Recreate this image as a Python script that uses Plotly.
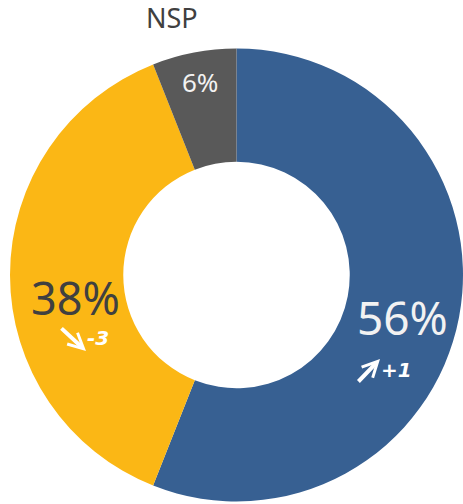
import plotly.graph_objects as go

# Donut data: share of answers, clockwise from 12 o'clock
labels = ["Oui", "Non", "NSP"]
values = [56, 38, 6]
colors = ["#376092", "#FBB715", "#595959"]
changes = ["+1", "-3", None]

W, H = 463, 504


def px_x(x):
    return x / W


def px_y(y):
    return 1 - y / H


fig = go.Figure(
    go.Pie(
        labels=labels,
        values=values,
        hole=0.5,
        sort=False,
        direction="clockwise",
        rotation=0,
        textinfo="none",
        hoverinfo="label+percent",
        marker=dict(colors=colors, line=dict(width=0)),
        domain=dict(x=[0.0216, 1.0], y=[0.005, 0.9038]),
        showlegend=False,
    )
)

FONT = "Noto Sans, Open Sans, sans-serif"
SMALL = "DejaVu Sans, sans-serif"
annotations = [
    # percentage labels
    dict(text=f"{values[0]}%", x=px_x(402), y=px_y(317),
         font=dict(size=46, color="#f2f2f2", family=FONT)),
    dict(text=f"{values[1]}%", x=px_x(75), y=px_y(297),
         font=dict(size=45, color="#404040", family=FONT)),
    dict(text=f"{values[2]}%", x=px_x(200), y=px_y(82),
         font=dict(size=26, color="#f2f2f2", family=FONT)),
    dict(text=labels[2], x=px_x(172), y=px_y(18),
         font=dict(size=27, color="#404040", family=FONT)),
    # evolution labels
    dict(text=f"<b><i>{changes[0]}</i></b>", x=px_x(396), y=px_y(370),
         font=dict(size=20, color="#ffffff", family=SMALL)),
    dict(text=f"<b><i>{changes[1]}</i></b>", x=px_x(98), y=px_y(338),
         font=dict(size=20, color="#ffffff", family=SMALL)),
]
for a in annotations:
    a.update(xref="paper", yref="paper", xanchor="center", yanchor="middle",
             showarrow=False)

# evolution arrows
arrows = [
    dict(x=px_x(380), y=px_y(359), ax=-23, ay=24),
    dict(x=px_x(86), y=px_y(351), ax=-26, ay=-24),
]
for a in arrows:
    a.update(xref="paper", yref="paper", text="", showarrow=True,
             arrowhead=5, arrowsize=0.75, arrowwidth=4, arrowcolor="#ffffff",
             standoff=0)

fig.update_layout(
    width=W,
    height=H,
    margin=dict(l=0, r=0, t=0, b=0),
    paper_bgcolor="white",
    plot_bgcolor="white",
    annotations=annotations + arrows,
)

# drop the default body margin so the figure sits at the window corner
fig.write_html("out.html", config={"displayModeBar": False},
               post_script="document.body.style.margin='0';")
